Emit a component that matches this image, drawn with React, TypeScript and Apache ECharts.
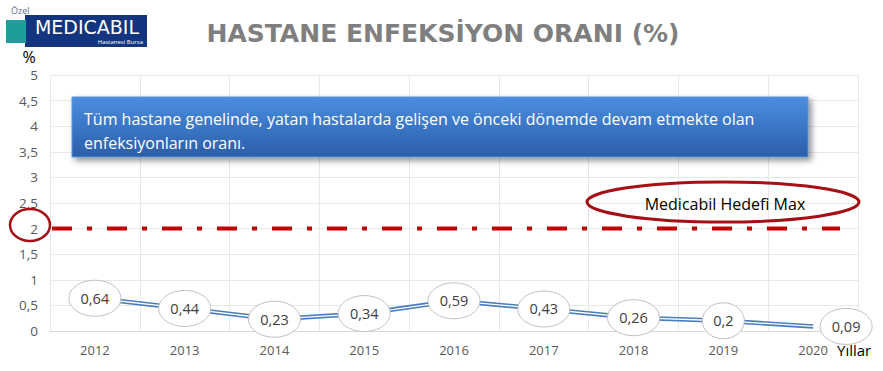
import React, { useEffect, useRef } from "react";
import * as echarts from "echarts";

const years = ["2012", "2013", "2014", "2015", "2016", "2017", "2018", "2019", "2020"];
const rates = [0.64, 0.44, 0.23, 0.34, 0.59, 0.43, 0.26, 0.2, 0.09];
const targetMax = [2];
const yTicks = { min: 0, max: 5, interval: 0.5 };
const titleText = "HASTANE ENFEKSİYON ORANI (%)";
const noteLine1 = "Tüm hastane genelinde, yatan hastalarda gelişen ve önceki dönemde devam etmekte olan";
const noteLine2 = "enfeksiyonların oranı.";
const targetLabel = "Medicabil Hedefi Max";

const fmt = (v: number) => String(v).replace(".", ",");
const FONT = "'Open Sans', 'Noto Sans', sans-serif";

export default function App() {
  const ref = useRef<HTMLDivElement>(null);
  useEffect(() => {
    if (!ref.current) return;
    const chart = echarts.init(ref.current, null, { renderer: "svg" });
    const last = rates.length - 1;
    const Z = 100;
    chart.setOption({
      animation: false,
      backgroundColor: "#ffffff",
      textStyle: { fontFamily: FONT },
      title: {
        text: titleText,
        left: 438,
        top: 16,
        textAlign: "center",
        textStyle: { fontSize: 25, fontWeight: "bold", color: "#7f7f7f", fontFamily: "'DejaVu Sans', sans-serif" },
      },
      grid: { left: 50, right: 25, top: 75, bottom: 40, containLabel: false },
      xAxis: {
        type: "category",
        data: years,
        boundaryGap: true,
        axisTick: { show: false },
        axisLine: { lineStyle: { color: "#d9d9d9" } },
        axisLabel: { color: "#595959", fontSize: 13, margin: 12, fontFamily: FONT },
        splitLine: { show: true, lineStyle: { color: "#e8e8e8" } },
      },
      yAxis: {
        type: "value",
        min: yTicks.min,
        max: yTicks.max,
        interval: yTicks.interval,
        axisLine: { show: false },
        axisTick: { show: false },
        axisLabel: { color: "#595959", fontSize: 13.5, margin: 12, formatter: (v: number) => fmt(v), fontFamily: FONT },
        splitLine: { lineStyle: { color: "#e8e8e8" } },
      },
      series: [
        {
          type: "custom",
          data: targetMax.map((v) => [0, v]),
          z: 2,
          renderItem: (params: any, api: any) => {
            const cs = params.coordSys;
            const p = api.coord([0, api.value(1)]);
            return {
              type: "line",
              shape: { x1: cs.x + 2, y1: p[1], x2: cs.x + cs.width - 18, y2: p[1] },
              style: { stroke: "#c00000", lineWidth: 4, lineDash: [20, 15, 5, 15] },
            };
          },
        },
        {
          type: "line",
          data: rates,
          symbol: "none",
          lineStyle: { color: "#4a7ebb", width: 4.5 },
          z: 3,
        },
        {
          type: "line",
          data: rates,
          symbol: "none",
          lineStyle: { color: "#ffffff", width: 1.3 },
          z: 4,
        },
        {
          type: "custom",
          data: rates.map((v, i) => [i, v]),
          z: 10,
          renderItem: (params: any, api: any) => {
            const idx = params.dataIndex;
            const p = api.coord([api.value(0), api.value(1)]);
            const txt = fmt(api.value(1));
            const dx = idx === last ? 33 : 0;
            const rx = txt.length <= 3 ? 21 : 26;
            return {
              type: "group",
              children: [
                {
                  type: "ellipse",
                  shape: { cx: p[0] + dx, cy: p[1], rx, ry: 18 },
                  style: { fill: "#ffffff", stroke: "#bfbfbf", lineWidth: 1 },
                },
                {
                  type: "text",
                  style: {
                    text: txt,
                    x: p[0] + dx,
                    y: p[1],
                    align: "center",
                    verticalAlign: "middle",
                    fill: "#404040",
                    font: `14.5px ${FONT}`,
                  },
                },
              ],
            };
          },
        },
      ],
      graphic: [
        // logo
        { type: "rect", z: Z, shape: { x: 25, y: 15, width: 122, height: 32 }, style: { fill: "#13357f" } },
        { type: "rect", z: Z, shape: { x: 6, y: 20, width: 20, height: 23 }, style: { fill: "#1e9e9a" } },
        { type: "text", z: Z, style: { text: "Özel", x: 11, y: 10, fill: "#5a6f8f", font: `9px ${FONT}`, verticalAlign: "middle" } },
        { type: "text", z: Z, style: { text: "MEDICABIL", x: 87, y: 27, align: "center", verticalAlign: "middle", fill: "#ffffff", font: `19px 'DejaVu Sans', sans-serif` } },
        { type: "text", z: Z, style: { text: "Hastanesi Bursa", x: 143, y: 42, align: "right", verticalAlign: "middle", fill: "#ffffff", font: `6px ${FONT}` } },
        { type: "text", z: Z, style: { text: "%", x: 29, y: 57, align: "center", verticalAlign: "middle", fill: "#000000", font: `16px ${FONT}` } },
        // note box
        {
          type: "rect",
          z: Z,
          shape: { x: 72, y: 97, width: 736, height: 60 },
          style: {
            fill: new echarts.graphic.LinearGradient(0, 0, 0, 1, [
              { offset: 0, color: "#4a8ee0" },
              { offset: 0.5, color: "#3a76c6" },
              { offset: 1, color: "#2b5ea9" },
            ]),
            stroke: "#5b95d8",
            lineWidth: 1,
            shadowBlur: 6,
            shadowOffsetX: 3,
            shadowOffsetY: 3,
            shadowColor: "rgba(0,0,0,0.45)",
          },
        },
        { type: "text", z: Z + 1, style: { text: noteLine1, x: 84, y: 119, verticalAlign: "middle", fill: "#ffffff", font: `16px ${FONT}` } },
        { type: "text", z: Z + 1, style: { text: noteLine2, x: 84, y: 143, verticalAlign: "middle", fill: "#ffffff", font: `16px ${FONT}` } },
        // target annotations
        { type: "ellipse", z: Z, shape: { cx: 30, cy: 225, rx: 20, ry: 16 }, style: { fill: "none", stroke: "#a50f15", lineWidth: 2.5 } },
        { type: "ellipse", z: Z, shape: { cx: 723, cy: 202, rx: 136, ry: 20 }, style: { fill: "none", stroke: "#a50f15", lineWidth: 3 } },
        { type: "text", z: Z, style: { text: targetLabel, x: 725, y: 204, align: "center", verticalAlign: "middle", fill: "#000000", font: `16px ${FONT}` } },
        { type: "text", z: Z, style: { text: "Yıllar", x: 837, y: 350, verticalAlign: "middle", fill: "#000000", font: `15px ${FONT}` } },
      ],
    });
    return () => chart.dispose();
  }, []);
  return <div ref={ref} style={{ position: "fixed", left: 0, top: 0, width: 883, height: 371 }} />;
}
